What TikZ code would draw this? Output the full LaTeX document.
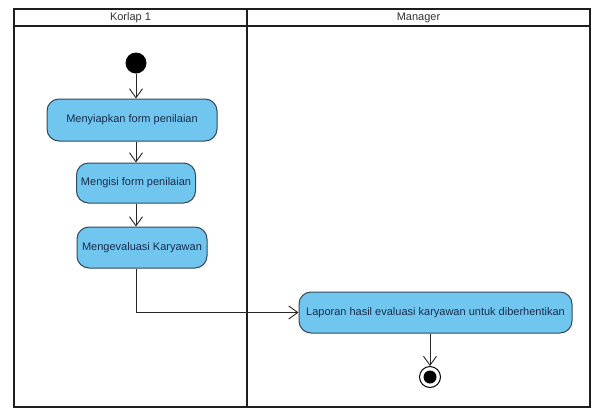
\documentclass[tikz,border=0pt]{standalone}
\usepackage{fontspec}
\setmainfont{Liberation Sans}
\usetikzlibrary{arrows.meta,positioning}
\definecolor{actfill}{RGB}{112,198,238}
\definecolor{actline}{RGB}{52,72,92}
\definecolor{acttext}{RGB}{24,44,78}
\definecolor{laneline}{RGB}{30,30,30}
\definecolor{flowline}{RGB}{40,40,40}
\tikzset{
  action/.style={draw=actline, line width=1pt, fill=actfill, rounded corners=12pt,
    text=acttext, font=\fontsize{11}{13}\selectfont, inner sep=0pt, anchor=center},
  lane/.style={draw=laneline, line width=1.6pt},
  lanetitle/.style={font=\fontsize{11}{13}\selectfont, text=black!80},
  flow/.style={draw=flowline, line width=0.9pt,
    -{Straight Barb[length=9pt,width=13pt,line width=0.9pt]}},
  initial/.style={circle, fill=black, minimum size=21pt, inner sep=0pt},
  finalring/.style={circle, draw=black, line width=1pt, fill=white, minimum size=21pt, inner sep=0pt},
}
\begin{document}
\begin{tikzpicture}[x=1pt,y=-1pt]
  \useasboundingbox (0,0) rectangle (592,408);
  \fill[white] (0,0) rectangle (592,408);

  % swimlanes
  \draw[lane] (14,9) rectangle (590,407);
  \draw[lane] (14,26) -- (590,26);
  \draw[lane] (247,9) -- (247,407);
  \node[lanetitle] (laneA) at (130.5,17.5) {Korlap 1};
  \node[lanetitle] (laneB) at (418.5,17.5) {Manager};

  % activities
  \node[initial] (start) at (136,63) {};
  \node[action, minimum width=170pt, minimum height=42pt] (a1) at (132,120) {Menyiapkan form penilaian};
  \node[action, minimum width=119pt, minimum height=40pt] (a2) at (136,183) {Mengisi form penilaian};
  \node[action, minimum width=130pt, minimum height=41pt] (a3) at (142,247.5) {Mengevaluasi Karyawan};
  \node[action, minimum width=273pt, minimum height=41pt] (a4) at (435.5,312.5) {Laporan hasil evaluasi karyawan untuk diberhentikan};
  \node[finalring] (stop) at (430,377) {};
  \node[circle, fill=black, minimum size=13pt, inner sep=0pt] (stopdot) at (stop) {};

  % control flow
  \draw[flow] (start) -- (a1.north -| start);
  \draw[flow] (a1.south -| start) -- (a2.north -| start);
  \draw[flow] (a2.south -| start) -- (a3.north -| start);
  \draw[flow] (a3.south -| start) |- (a4.west);
  \draw[flow] (a4.south -| stop) -- (stop.north);
\end{tikzpicture}
\end{document}
